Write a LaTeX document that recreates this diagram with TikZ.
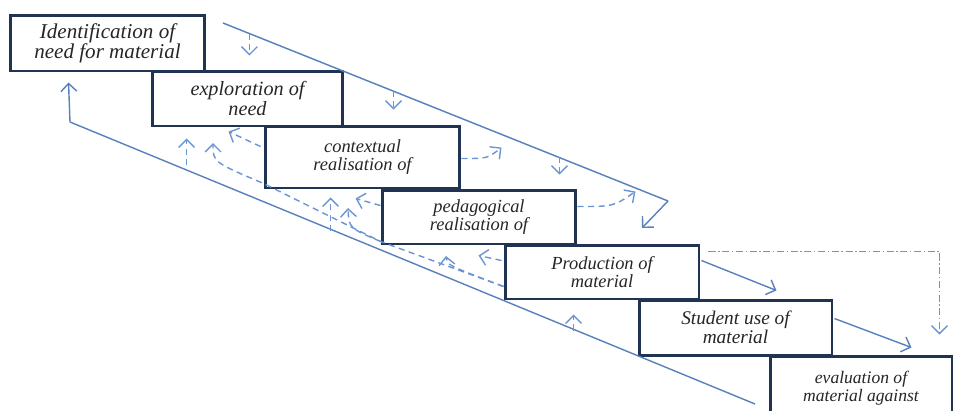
\documentclass[tikz,border=0pt]{standalone}
\usepackage{fontspec}
\setmainfont{Liberation Serif}
\usetikzlibrary{arrows.meta,calc}
\definecolor{stageline}{RGB}{32,52,82}
\definecolor{flowblue}{RGB}{88,128,188}
\definecolor{fbblue}{RGB}{105,150,210}
\tikzset{
  stage/.style={draw=stageline,line width=1.7pt,fill=white,inner sep=1pt,align=center,text=black!85,
    font=\fontsize{10.5}{10.5}\selectfont\itshape},
  flowln/.style={draw=flowblue,line width=0.8pt},
  fwarr/.style={flowln,-{Straight Barb[length=4.5pt,width=9pt]}},
  fbarr/.style={draw=fbblue,line width=0.8pt,dash pattern=on 3.5pt off 2.5pt,-{Straight Barb[length=4.5pt,width=9pt]}},
  ddarr/.style={draw=fbblue,line width=0.8pt,dash pattern=on 4pt off 1.5pt on 0.8pt off 1.5pt,-{Straight Barb[length=4.5pt,width=9pt]}}
}
\begin{document}
\begin{tikzpicture}[x=0.02cm,y=-0.02cm]
\useasboundingbox (0,0) rectangle (955,410);
\clip (0,0) rectangle (955,410);
\node[stage,minimum width=3.9cm,minimum height=1.12cm,font=\fontsize{12}{11.5}\selectfont\itshape] (idnt) at (107.5,43) {Identification of\\need for material};
\node[stage,minimum width=3.82cm,minimum height=1.1cm,font=\fontsize{11.5}{11}\selectfont\itshape] (expl) at (247.5,98.5) {exploration of\\need};
\node[stage,minimum width=3.9cm,minimum height=1.24cm] (ctxt) at (362.5,157) {contextual\\realisation of};
\node[stage,minimum width=3.88cm,minimum height=1.08cm] (peda) at (479,217) {pedagogical\\realisation of};
\node[stage,minimum width=3.88cm,minimum height=1.08cm] (prod) at (602,272) {Production of\\material};
\node[stage,minimum width=3.86cm,minimum height=1.1cm,font=\fontsize{11}{10.5}\selectfont\itshape] (stud) at (735.5,327.5) {Student use of\\material};
\node[stage,minimum width=3.64cm,minimum height=1.28cm,font=\fontsize{10}{10.5}\selectfont\itshape] (eval) at (861,388) {evaluation of\\material against};
\coordinate (upA) at (223,23);
\coordinate (upB) at (668,201);
\coordinate (lowA) at (70,122);
\coordinate (lowB) at (755,404);
\draw[flowln] (upA) -- (upB);
\draw[fwarr] (upB) -- ++(-26,27);
\draw[flowln] (lowB) -- (lowA);
\draw[fwarr] (lowA) -- ($(idnt.south west)+(60,10)$);
\draw[fbarr] ($(idnt.north east)+(43,20)$) -- ++(0,22);
\draw[fbarr] ($(expl.north east)+(49,21)$) -- ++(0,19);
\draw[fbarr] ($(ctxt.north east)+(98,32)$) -- ++(0,18);
\draw[fbarr] ($(ctxt.north east)+(0,34)$) .. controls +(26,0) .. ++(40,-11);
\draw[fbarr] ($(peda.north east)+(0,18)$) .. controls +(36,0) .. ++(58,-15);
\draw[fwarr] ($(prod.north east)+(1,17)$) -- ++(75,30);
\draw[fwarr] ($(stud.north east)+(1,20)$) -- ++(77,29);
\draw[ddarr] ($(prod.north east)+(8,8)$) -- ++(231,0) -- ++(0,83);
\draw[fbarr] ($(ctxt.north west)+(-3,22)$) -- ++(-32,-15);
\draw[fbarr] ($(peda.north west)+(0,17)$) -- ++(-25,-7);
\draw[fbarr] ($(prod.north west)+(-2,17)$) -- ++(-23,-5);
\draw[fbarr] ($(ctxt.south west)+(-77,-24)$) -- ++(0,-27);
\draw[fbarr] ($(peda.south west)+(-50,-14)$) -- ++(0,-34);
\draw[fbarr] ($(stud.south west)+(-64,-26)$) -- ++(0,-16);
\draw[fbarr] ($(prod.south west)+(0,-14)$) -- ($(peda.south west)+(0,-4)$) -- ($(ctxt.south west)+(0,-6)$) .. controls (213,162) .. (213,143);
\draw[fbarr] ($(peda.south west)+(0,-4)$) .. controls (349,228) .. (348,208);
\draw[fbarr] ($(prod.south west)+(0,-14)$) .. controls (447,265) .. (446,256);
\end{tikzpicture}
\end{document}
